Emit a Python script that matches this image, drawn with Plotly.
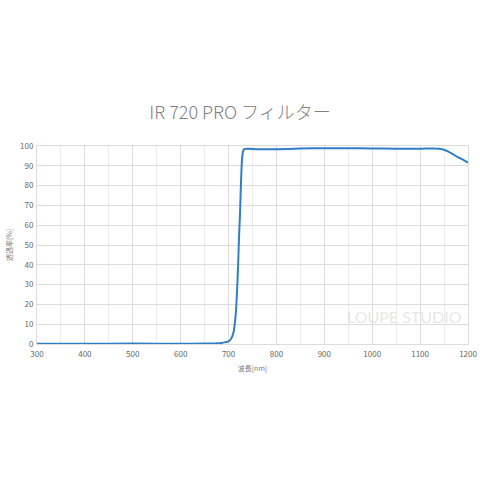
import plotly.graph_objects as go

wavelength_nm = [300, 400, 500, 600, 650, 680, 690, 695, 700, 705, 710, 715, 718, 720,
                 722, 724, 726, 728, 730, 732, 740, 760, 800, 850, 900, 950, 1000,
                 1050, 1100, 1130, 1140, 1150, 1160, 1170, 1180, 1190, 1200]
transmission_pct = [0.1, 0.1, 0.2, 0.1, 0.2, 0.4, 0.7, 1.0, 1.3, 2.5, 5.5, 15, 28, 40,
                    55, 66, 82, 93, 97, 98.3, 98.6, 98.4, 98.4, 98.7, 98.9, 98.9, 98.8,
                    98.6, 98.6, 98.8, 98.6, 98.1, 97.0, 95.6, 94.2, 93.0, 91.6]

title_text = "IR 720 PRO フィルター"
x_title = "波長[nm]"
y_title = "透過率[%]"
watermark = "LOUPE STUDIO"

font = "Noto Sans CJK JP"
fig = go.Figure()
fig.add_trace(go.Scatter(x=wavelength_nm, y=transmission_pct, mode="lines",
                         line=dict(color="#2f7fc6", width=2, shape="spline", smoothing=0.4),
                         showlegend=False, hoverinfo="skip"))

fig.add_annotation(text=watermark, x=1068, y=14, xref="x", yref="y", showarrow=False,
                   font=dict(family="Lato", size=16, color="rgba(200,200,200,0.45)"))

fig.update_layout(
    width=480, height=480,
    paper_bgcolor="white", plot_bgcolor="white",
    margin=dict(l=37, r=12, t=146, b=136),
    title=dict(text=title_text, x=0.5, xanchor="center", y=1 - 113/480, yanchor="middle",
               font=dict(family=font, size=18, color="#808080", weight=300)),
    font=dict(family=font, color="#666666", size=8),
    xaxis=dict(range=[300, 1200], tickvals=list(range(300, 1201, 100)), automargin=False,
               showgrid=True, gridcolor="#dcdcdc", gridwidth=1,
               minor=dict(dtick=50, showgrid=True, gridcolor="#ececec", gridwidth=1),
               showline=True, linecolor="#dcdcdc", mirror=True, zeroline=False,
               ticks="", ticklabelstandoff=2, tickfont=dict(size=8, color="#666666"),
               title=dict(text=x_title, font=dict(size=7, color="#777777"), standoff=8)),
    yaxis=dict(range=[0, 100], tickvals=list(range(0, 101, 10)), automargin=False,
               showgrid=True, gridcolor="#dcdcdc", gridwidth=1,
               showline=True, linecolor="#dcdcdc", mirror=True, zeroline=False,
               ticks="", ticklabelstandoff=1, tickfont=dict(size=8, color="#666666"),
               title=dict(text=y_title, font=dict(size=7, color="#777777"), standoff=6)),
)

fig.write_html("out.html", config={"displayModeBar": False},
               post_script="document.body.style.margin='0px';")
